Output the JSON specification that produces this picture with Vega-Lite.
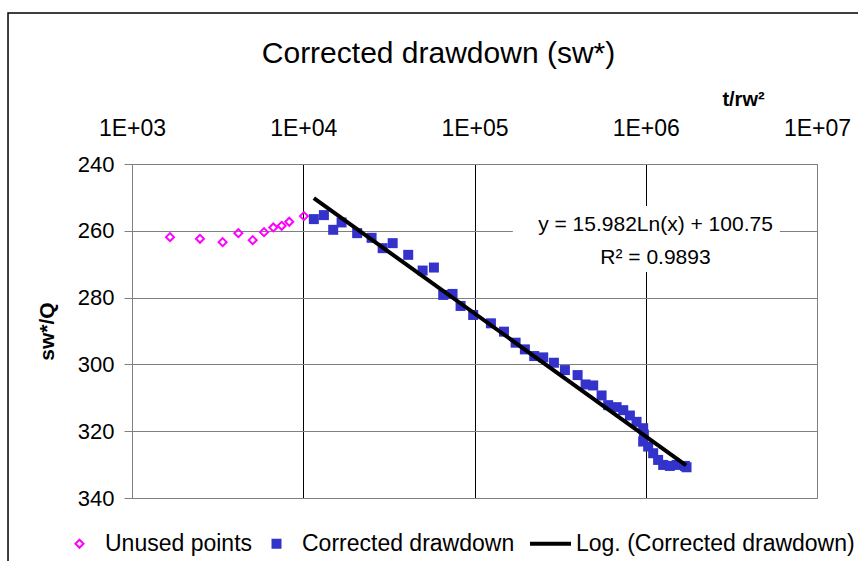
{
  "$schema": "https://vega.github.io/schema/vega-lite/v6.json",
  "width": 685,
  "height": 334,
  "autosize": {"type": "none"},
  "padding": {"left": 132, "top": 164, "right": 41, "bottom": 63},
  "background": "white",
  "config": {
    "font": "Liberation Sans",
    "view": {"stroke": "#808080", "strokeWidth": 1}
  },
  "title": {
    "text": "Corrected drawdown (sw*)",
    "fontSize": 30,
    "fontWeight": "normal",
    "color": "black",
    "anchor": "middle",
    "frame": "group",
    "dx": -36,
    "offset": -57
  },
  "datasets": {
    "points": [
      {"x": 1667, "y": 261.9, "series": "Unused points"},
      {"x": 2494, "y": 262.4, "series": "Unused points"},
      {"x": 3382, "y": 263.4, "series": "Unused points"},
      {"x": 4178, "y": 260.7, "series": "Unused points"},
      {"x": 5070, "y": 262.8, "series": "Unused points"},
      {"x": 5903, "y": 260.4, "series": "Unused points"},
      {"x": 6687, "y": 259.0, "series": "Unused points"},
      {"x": 7485, "y": 258.5, "series": "Unused points"},
      {"x": 8285, "y": 257.3, "series": "Unused points"},
      {"x": 10090, "y": 255.6, "series": "Unused points"},
      {"x": 11530, "y": 256.5, "series": "Corrected drawdown"},
      {"x": 13200, "y": 255.3, "series": "Corrected drawdown"},
      {"x": 14960, "y": 259.7, "series": "Corrected drawdown"},
      {"x": 16740, "y": 257.5, "series": "Corrected drawdown"},
      {"x": 20650, "y": 260.7, "series": "Corrected drawdown"},
      {"x": 25060, "y": 262.1, "series": "Corrected drawdown"},
      {"x": 29090, "y": 265.2, "series": "Corrected drawdown"},
      {"x": 33280, "y": 263.7, "series": "Corrected drawdown"},
      {"x": 41020, "y": 267.2, "series": "Corrected drawdown"},
      {"x": 49790, "y": 271.9, "series": "Corrected drawdown"},
      {"x": 57940, "y": 271.0, "series": "Corrected drawdown"},
      {"x": 65660, "y": 279.2, "series": "Corrected drawdown"},
      {"x": 74440, "y": 278.9, "series": "Corrected drawdown"},
      {"x": 82920, "y": 282.5, "series": "Corrected drawdown"},
      {"x": 98240, "y": 285.2, "series": "Corrected drawdown"},
      {"x": 124700, "y": 287.7, "series": "Corrected drawdown"},
      {"x": 148600, "y": 290.2, "series": "Corrected drawdown"},
      {"x": 173800, "y": 293.5, "series": "Corrected drawdown"},
      {"x": 196900, "y": 295.5, "series": "Corrected drawdown"},
      {"x": 223200, "y": 297.5, "series": "Corrected drawdown"},
      {"x": 251900, "y": 297.9, "series": "Corrected drawdown"},
      {"x": 290900, "y": 299.5, "series": "Corrected drawdown"},
      {"x": 337300, "y": 301.7, "series": "Corrected drawdown"},
      {"x": 400000, "y": 303.2, "series": "Corrected drawdown"},
      {"x": 445300, "y": 306.0, "series": "Corrected drawdown"},
      {"x": 493400, "y": 306.3, "series": "Corrected drawdown"},
      {"x": 552300, "y": 309.3, "series": "Corrected drawdown"},
      {"x": 603400, "y": 312.2, "series": "Corrected drawdown"},
      {"x": 675700, "y": 312.8, "series": "Corrected drawdown"},
      {"x": 738900, "y": 313.7, "series": "Corrected drawdown"},
      {"x": 807900, "y": 315.3, "series": "Corrected drawdown"},
      {"x": 883400, "y": 317.2, "series": "Corrected drawdown"},
      {"x": 965900, "y": 319.1, "series": "Corrected drawdown"},
      {"x": 975000, "y": 321.0, "series": "Corrected drawdown"},
      {"x": 965900, "y": 323.1, "series": "Corrected drawdown"},
      {"x": 1033000, "y": 324.6, "series": "Corrected drawdown"},
      {"x": 1105000, "y": 326.6, "series": "Corrected drawdown"},
      {"x": 1181000, "y": 328.6, "series": "Corrected drawdown"},
      {"x": 1264000, "y": 330.1, "series": "Corrected drawdown"},
      {"x": 1383000, "y": 330.4, "series": "Corrected drawdown"},
      {"x": 1514000, "y": 330.1, "series": "Corrected drawdown"},
      {"x": 1692000, "y": 330.4, "series": "Corrected drawdown"},
      {"x": 1730000, "y": 330.8, "series": "Corrected drawdown"}
    ],
    "trend": [
      {"x": 11530, "y": 250.2},
      {"x": 1720000, "y": 330.2}
    ],
    "ann": [
      {"x": 1140000, "y": 258.3, "label": "y = 15.982Ln(x) + 100.75"},
      {"x": 1140000, "y": 268.1, "label": "R² = 0.9893"}
    ],
    "box": [
      {"x": 167500, "x2": 6070000, "y": 252.6, "y2": 272.3}
    ],
    "frame": [
      {"x": 188.8, "x2": 20300000, "y": 194.8, "y2": 361.6}
    ]
  },
  "encoding": {
    "x": {
      "field": "x",
      "type": "quantitative",
      "scale": {"type": "log", "domain": [1000, 10000000], "nice": false},
      "axis": {
        "orient": "top",
        "values": [1000, 10000, 100000, 1000000, 10000000],
        "labelExpr": "'1E+0' + round(log(datum.value)/LN10)",
        "labelFontSize": 23,
        "labelColor": "black",
        "labelFlush": false,
        "labelOverlap": false,
        "labelPadding": 24,
        "ticks": false,
        "domain": false,
        "grid": true,
        "gridColor": {"condition": {"test": "datum.value <= 1000 || datum.value >= 10000000", "value": "#808080"}, "value": "black"},
        "gridWidth": 1,
        "title": "t/rw²",
        "titleFontSize": 20,
        "titleFontWeight": "bold",
        "titleColor": "black",
        "titleX": 611,
        "titleY": -59,
        "titleBaseline": "alphabetic",
        "titleAlign": "center"
      }
    },
    "y": {
      "field": "y",
      "type": "quantitative",
      "scale": {"domain": [240, 340], "reverse": true, "nice": false, "zero": false},
      "axis": {
        "values": [240, 260, 280, 300, 320, 340],
        "labelFontSize": 22,
        "labelColor": "black",
        "tickSize": 8,
        "tickColor": "#808080",
        "domainColor": "#808080",
        "gridColor": "#808080",
        "labelPadding": 10,
        "title": "sw*/Q",
        "titleFontSize": 21,
        "titleFontWeight": "bold",
        "titleColor": "black",
        "titleX": -85,
        "titleY": 167,
        "titleAngle": -90,
        "titleBaseline": "middle",
        "titleAlign": "center"
      }
    }
  },
  "layer": [
    {
      "data": {"name": "frame"},
      "mark": {"type": "rect", "fill": null, "fillOpacity": 0, "stroke": "black", "strokeWidth": 1.5, "clip": false},
      "encoding": {
        "x2": {"field": "x2"},
        "y2": {"field": "y2"}
      }
    },
    {
      "data": {"name": "box"},
      "mark": {"type": "rect", "fill": "white"},
      "encoding": {
        "x2": {"field": "x2"},
        "y2": {"field": "y2"}
      }
    },
    {
      "data": {"name": "ann"},
      "mark": {"type": "text", "fontSize": 21, "color": "black", "align": "center", "baseline": "middle"},
      "encoding": {"text": {"field": "label"}}
    },
    {
      "data": {"name": "points"},
      "mark": {"type": "point", "filled": false, "opacity": 1},
      "encoding": {
        "shape": {
          "field": "series",
          "type": "nominal",
          "scale": {"domain": ["Unused points", "Corrected drawdown", "Log. (Corrected drawdown)"], "range": ["diamond", "square", "M-4.875,-0.25H4.875V0.25H-4.875Z"]},
          "legend": {
            "orient": "none",
            "legendX": -64,
            "legendY": 368,
            "direction": "horizontal",
            "title": null,
            "labelFontSize": 23,
            "labelColor": "black",
            "labelLimit": 400,
            "symbolSize": 64,
            "labelOffset": 14,
            "columnPadding": 12,
            "padding": 0,
            "symbolStrokeWidth": 2
          }
        },
        "fill": {
          "field": "series",
          "type": "nominal",
          "scale": {"domain": ["Unused points", "Corrected drawdown", "Log. (Corrected drawdown)"], "range": ["transparent", "#3333CC", "black"]}
        },
        "stroke": {
          "field": "series",
          "type": "nominal",
          "scale": {"domain": ["Unused points", "Corrected drawdown", "Log. (Corrected drawdown)"], "range": ["#FF00FF", "#3333CC", "black"]}
        },
        "size": {"condition": {"test": "datum.series === 'Unused points'", "value": 64}, "value": 100},
        "strokeWidth": {"condition": {"test": "datum.series === 'Unused points'", "value": 2}, "value": 0}
      }
    },
    {
      "data": {"name": "trend"},
      "mark": {"type": "line", "color": "black", "strokeWidth": 4},
      "encoding": {}
    }
  ]
}
